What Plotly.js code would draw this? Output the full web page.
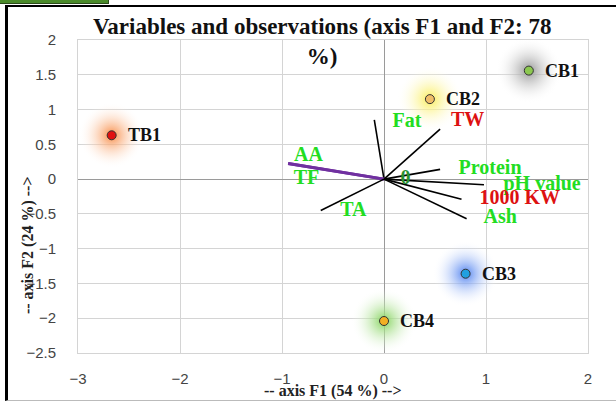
<!DOCTYPE html>
<html>
<head>
<meta charset="utf-8">
<script src="https://cdn.plot.ly/plotly-3.0.1.min.js"></script>
<style>
  html, body { margin: 0; padding: 0; background: #fff; }
  #wrap { position: relative; width: 616px; height: 401px; overflow: hidden; }
  #greenbar { position: absolute; left: 0; top: 0; width: 108px; height: 3px; background: #4a8a2a; border-bottom: 1px solid #2b4a1a; border-right: 1px solid #2b4a1a; z-index: 2; }
  #frame { position: absolute; left: 5px; top: 5px; width: 620px; height: 393px; border-left: 3px solid #000; border-top: 2px solid #000; border-bottom: 1px solid #bbb; z-index: 2; pointer-events: none; }
  #chart { position: absolute; left: 0; top: 0; width: 616px; height: 401px; }
</style>
</head>
<body>
<div id="wrap">
  <div id="chart"></div>
  <div id="greenbar"></div>
  <div id="frame"></div>
</div>
<script>
// Observations
const obsNames = ['TB1', 'CB1', 'CB2', 'CB3', 'CB4'];
const obsF1 = [-2.67, 1.42, 0.45, 0.80, 0.0];
const obsF2 = [0.63, 1.56, 1.15, -1.36, -2.04];
const obsFill = ['#e01010', '#8cc850', '#f0be68', '#20a0e0', '#f2b024'];
const obsGlow = ['rgba(248,140,70,1)', 'rgba(150,150,150,1)', 'rgba(250,238,90,1)', 'rgba(80,130,240,1)', 'rgba(130,210,90,1)'];

// Variables (vectors)
const varNames = ['Fat', 'TW', 'AA', 'TF', 'Protein', 'pH value', '1000 KW', 'Ash', 'TA'];
const varF1 = [-0.095, 0.55, -0.94, -0.94, 0.55, 0.98, 0.76, 0.81, -0.62];
const varF2 = [0.85, 0.72, 0.225, 0.225, 0.14, -0.08, -0.29, -0.57, -0.45];
const varLineColor = ['#000', '#000', '#7030a0', '#7030a0', '#000', '#000', '#000', '#000', '#000'];

// Variable label placements
const labText = ['Fat', 'TW', 'AA', 'TF', 'Protein', 'pH value', '1000 KW', 'Ash', 'TA', '0'];
const labX = [0.225, 0.82, -0.74, -0.76, 1.04, 1.55, 1.33, 1.14, -0.30, 0.21];
const labY = [0.82, 0.83, 0.33, 0.0, 0.14, -0.09, -0.29, -0.56, -0.46, 0.0];
const labColor = ['#22dd22', '#dd1111', '#22dd22', '#22dd22', '#22dd22', '#22dd22', '#dd1111', '#22dd22', '#22dd22', '#2a9030'];

const serif = 'Liberation Serif, Times New Roman, serif';
const traces = [];

// glows (radial gradient: gradient.color is the centre, marker.color the rim)
traces.push({
  type: 'scatter', mode: 'markers', x: obsF1, y: obsF2, hoverinfo: 'skip',
  marker: { size: 66, color: 'rgba(255,255,255,0)', line: { width: 0 },
            gradient: { type: 'radial', color: obsGlow } }
});

// vectors
for (let i = 0; i < varNames.length; i++) {
  const purple = varLineColor[i] !== '#000';
  traces.push({
    type: 'scatter', mode: 'lines', x: [0, varF1[i]], y: [0, varF2[i]],
    line: { color: varLineColor[i], width: purple ? 3 : 1.6 }, hoverinfo: 'skip'
  });
}

// variable labels
traces.push({
  type: 'scatter', mode: 'text', x: labX, y: labY, text: labText,
  textposition: 'middle center',
  textfont: { family: serif, size: 20, color: labColor, weight: 'bold' }
});

// observation points
traces.push({
  type: 'scatter', mode: 'markers', x: obsF1, y: obsF2,
  marker: { size: 9, color: obsFill, line: { color: '#333', width: 1 } }
});

const annotations = obsNames.map((n, i) => ({
  x: obsF1[i], y: obsF2[i], text: n, showarrow: false, xanchor: 'left', xshift: 14,
  font: { family: serif, size: 18, color: '#111', weight: 'bold' }
}));
annotations.push({
  xref: 'paper', yref: 'paper', x: -0.098, y: 0.345, xanchor: 'center', yanchor: 'middle',
  textangle: -90, showarrow: false,
  text: '-- axis F2 (24 %) -->', font: { family: serif, size: 16, color: '#222', weight: 'bold' }
});
annotations.push({
  xref: 'paper', yref: 'paper', x: 0.5, y: -0.12, showarrow: false, xanchor: 'center', yanchor: 'middle',
  text: '-- axis F1 (54 %) -->', font: { family: serif, size: 16, color: '#222', weight: 'bold' }
});

const layout = {
  width: 616, height: 401,
  margin: { l: 78, r: 28, t: 40, b: 48 },
  paper_bgcolor: '#fff', plot_bgcolor: '#fff',
  showlegend: false,
  title: {
    text: 'Variables and observations (axis F1 and F2: 78<br>%)',
    font: { family: serif, size: 23, color: '#111', weight: 'bold' },
    xref: 'container', yref: 'container', x: 0.523, xanchor: 'center',
    y: 1 - 34 / 401, yanchor: 'middle'
  },
  xaxis: {
    range: [-3, 2], dtick: 1, tick0: 0, showgrid: true, gridcolor: '#d4d4d4', gridwidth: 1,
    zeroline: true, zerolinecolor: '#9a9a9a', zerolinewidth: 1,
    showline: true, linecolor: '#d4d4d4', mirror: true, ticks: '',
    ticklabelstandoff: 12,
    tickfont: { family: 'Liberation Sans, Arial, sans-serif', size: 15, color: '#444' }
  },
  yaxis: {
    range: [-2.5, 2], dtick: 0.5, tick0: 0, showgrid: true, gridcolor: '#d4d4d4', gridwidth: 1,
    zeroline: true, zerolinecolor: '#9a9a9a', zerolinewidth: 1,
    showline: true, linecolor: '#d4d4d4', mirror: true, ticks: '',
    ticklabelstandoff: 18,
    tickfont: { family: 'Liberation Sans, Arial, sans-serif', size: 15, color: '#444' }
  },
  annotations: annotations
};

Plotly.newPlot('chart', traces, layout, { displayModeBar: false, staticPlot: true });
</script>
</body>
</html>
